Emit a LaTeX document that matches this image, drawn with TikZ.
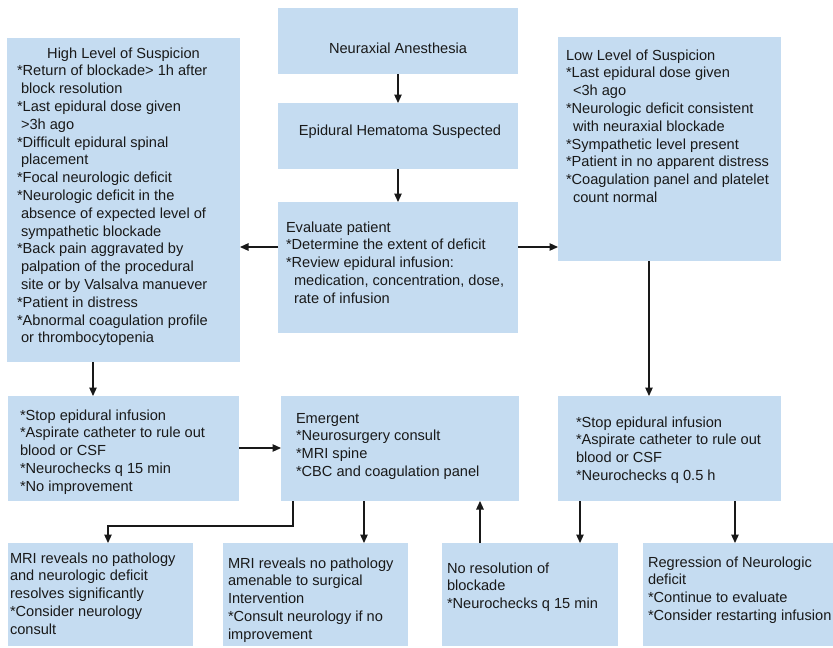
\documentclass[tikz,border=0pt]{standalone}
\usepackage{fontspec}
\setmainfont{Liberation Sans}
\usetikzlibrary{arrows.meta}
\definecolor{boxblue}{RGB}{197,220,241}
\definecolor{inkc}{RGB}{25,25,25}
\newcommand{\ind}[1]{\hspace*{#1}}
\begin{document}
\begin{tikzpicture}[x=1pt,y=-1pt,
  box/.style={fill=boxblue, draw=none, anchor=north west, inner sep=0pt, outer sep=0pt},
  txt/.style={anchor=base west, inner sep=0pt, outer sep=0pt, text=inkc,
    font=\fontsize{14.6}{17.8}\selectfont},
  ctxt/.style={anchor=base, inner sep=0pt, outer sep=0pt, text=inkc,
    font=\fontsize{14.6}{17.8}\selectfont},
  arr/.style={draw=inkc, line width=1.2pt, -{Triangle[length=8.5pt,width=7.5pt]}},
  ln/.style={draw=inkc, line width=1.2pt}]
\useasboundingbox (0,0) rectangle (833,648);
\fill[white] (0,0) rectangle (833,648);

% boxes
\node[box, minimum width=240pt, minimum height=66pt]  (neur)  at (278,8)   {};
\node[box, minimum width=240pt, minimum height=66pt]  (epi)   at (278,103) {};
\node[box, minimum width=240pt, minimum height=131pt] (eval)  at (278,202) {};
\node[box, minimum width=233pt, minimum height=324pt] (high)  at (7,38)    {};
\node[box, minimum width=223pt, minimum height=224pt] (low)   at (558,37)  {};
\node[box, minimum width=231pt, minimum height=105pt] (stopL) at (8,396)   {};
\node[box, minimum width=238pt, minimum height=105pt] (emerg) at (281,396) {};
\node[box, minimum width=223pt, minimum height=105pt] (stopR) at (558,396) {};
\node[box, minimum width=185pt, minimum height=103pt] (mri1)  at (8,543)   {};
\node[box, minimum width=185pt, minimum height=103pt] (mri2)  at (223,543) {};
\node[box, minimum width=176pt, minimum height=103pt] (nores) at (442,543) {};
\node[box, minimum width=190pt, minimum height=103pt] (regr)  at (643,543) {};

% texts
\node[ctxt] (t-neur) at (398,53) {Neuraxial Anesthesia};
\node[ctxt] (t-epi)  at (400,135) {Epidural Hematoma Suspected};
\node[txt] (t-eval) at (286,232) {\parbox[t]{230pt}{\raggedright
Evaluate patient\\
{*}Determine the extent of deficit\\
{*}Review epidural infusion:\\
\ind{8pt}medication, concentration, dose,\\
\ind{8pt}rate of infusion}};
\node[txt] (t-high) at (17,58) {\parbox[t]{225pt}{\raggedright
\makebox[213pt][c]{High Level of Suspicion}\\
{*}Return of blockade> 1h after\\
\ind{4pt}block resolution\\
{*}Last epidural dose given\\
\ind{4pt}>3h ago\\
{*}Difficult epidural spinal\\
\ind{4pt}placement\\
{*}Focal neurologic deficit\\
{*}Neurologic deficit in the\\
\ind{4pt}absence of expected level of\\
\ind{4pt}sympathetic blockade\\
{*}Back pain aggravated by\\
\ind{4pt}palpation of the procedural\\
\ind{4pt}site or by Valsalva manuever\\
{*}Patient in distress\\
{*}Abnormal coagulation profile\\
\ind{4pt}or thrombocytopenia}};
\node[txt] (t-low) at (566,60) {\parbox[t]{215pt}{\raggedright
Low Level of Suspicion\\
{*}Last epidural dose given\\
\ind{7pt}<3h ago\\
{*}Neurologic deficit consistent\\
\ind{7pt}with neuraxial blockade\\
{*}Sympathetic level present\\
{*}Patient in no apparent distress\\
{*}Coagulation panel and platelet\\
\ind{7pt}count normal}};
\node[txt] (t-stopL) at (20,420) {\parbox[t]{215pt}{\raggedright
{*}Stop epidural infusion\\
{*}Aspirate catheter to rule out\\
blood or CSF\\
{*}Neurochecks q 15 min\\
{*}No improvement}};
\node[txt] (t-emerg) at (296,423) {\parbox[t]{220pt}{\raggedright
Emergent\\
{*}Neurosurgery consult\\
{*}MRI spine\\
{*}CBC and coagulation panel}};
\node[txt] (t-stopR) at (576,427) {\parbox[t]{205pt}{\raggedright
{*}Stop epidural infusion\\
{*}Aspirate catheter to rule out\\
blood or CSF\\
{*}Neurochecks q 0.5 h}};
\node[txt] (t-mri1) at (10,563) {\parbox[t]{185pt}{\raggedright
MRI reveals no pathology\\
and neurologic deficit\\
resolves significantly\\
{*}Consider neurology\\
consult}};
\node[txt] (t-mri2) at (228,568) {\parbox[t]{185pt}{\raggedright
MRI reveals no pathology\\
amenable to surgical\\
Intervention\\
{*}Consult neurology if no\\
improvement}};
\node[txt] (t-nores) at (447,573) {\parbox[t]{170pt}{\raggedright
No resolution of\\
blockade\\
{*}Neurochecks q 15 min}};
\node[txt] (t-regr) at (648,567) {\parbox[t]{190pt}{\raggedright
Regression of Neurologic\\
deficit\\
{*}Continue to evaluate\\
{*}Consider restarting infusion}};

% helper coordinates for connector positions
\coordinate (yE) at (0,247);
\coordinate (yK) at (0,448);
\coordinate (xA) at (93,0);
\coordinate (xB) at (649,0);
\coordinate (xC) at (293,0);
\coordinate (xD) at (108,0);
\coordinate (yF) at (0,526);
\coordinate (xG) at (364,0);
\coordinate (xH) at (480,0);
\coordinate (xI) at (580,0);
\coordinate (xJ) at (735,0);

% connectors
\draw[arr] (neur.south) -- (epi.north);
\draw[arr] (epi.south) -- (eval.north);
\draw[arr] (eval.west |- yE) -- (high.east |- yE);
\draw[arr] (eval.east |- yE) -- (low.west |- yE);
\draw[arr] (high.south -| xA) -- (stopL.north -| xA);
\draw[arr] (low.south -| xB) -- (stopR.north -| xB);
\draw[arr] (stopL.east |- yK) -- (emerg.west |- yK);
\draw[arr] (emerg.south -| xC) -- (xC |- yF) -- (xD |- yF) -- (mri1.north -| xD);
\draw[arr] (emerg.south -| xG) -- (mri2.north -| xG);
\draw[arr] (nores.north -| xH) -- (emerg.south -| xH);
\draw[arr] (stopR.south -| xI) -- (nores.north -| xI);
\draw[arr] (stopR.south -| xJ) -- (regr.north -| xJ);
\end{tikzpicture}
\end{document}
